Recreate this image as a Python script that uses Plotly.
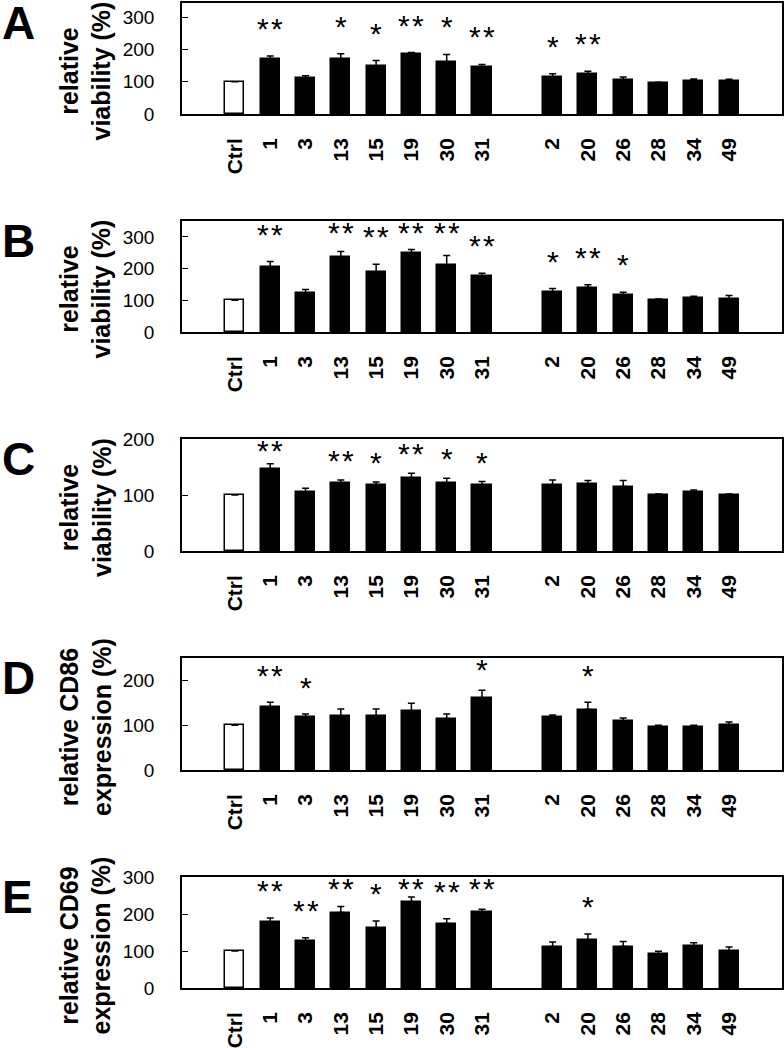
import plotly.graph_objects as go

# ---------------- data ----------------
labels = ["Ctrl", "1", "3", "13", "15", "19", "30", "31", "2", "20", "26", "28", "34", "49"]

a_vals = [100, 172, 111, 171, 150, 188, 162, 146, 115, 124, 107, 97, 104, 102]
a_errs = [0, 8, 8, 16, 16, 3, 23, 8, 10, 9, 8, 2, 5, 6]
a_sig = ["", "**", "", "*", "*", "**", "*", "**", "*", "**", "", "", "", ""]

b_vals = [100, 206, 122, 235, 188, 248, 211, 177, 125, 140, 117, 100, 107, 104]
b_errs = [0, 16, 12, 19, 26, 12, 30, 8, 12, 9, 8, 4, 6, 11]
b_sig = ["", "**", "", "**", "**", "**", "**", "**", "*", "**", "*", "", "", ""]

c_vals = [100, 147, 106, 121, 117, 130, 122, 118, 117, 119, 115, 100, 106, 100]
c_errs = [0, 9, 6, 6, 6, 9, 8, 6, 10, 7, 11, 2, 3, 2]
c_sig = ["", "**", "", "**", "*", "**", "*", "*", "", "", "", "", "", ""]

d_vals = [100, 140, 118, 121, 120, 131, 113, 161, 119, 135, 110, 97, 96, 101]
d_errs = [0, 11, 7, 15, 16, 18, 12, 17, 4, 16, 6, 3, 4, 6]
d_sig = ["", "**", "*", "", "", "", "", "*", "", "*", "", "", "", ""]

e_vals = [100, 179, 128, 204, 161, 233, 174, 205, 112, 130, 112, 91, 113, 101]
e_errs = [0, 10, 8, 16, 20, 13, 13, 8, 12, 16, 14, 8, 9, 10]
e_sig = ["", "**", "**", "**", "*", "**", "**", "**", "", "*", "", "", "", ""]

panel_letters = ["A", "B", "C", "D", "E"]
y_titles = ["relative<br>viability (%)", "relative<br>viability (%)", "relative<br>viability (%)",
            "relative CD86<br>expression (%)", "relative CD69<br>expression (%)"]
y_tickvals = [[0, 100, 200, 300], [0, 100, 200, 300], [0, 100, 200], [0, 100, 200], [0, 100, 200, 300]]
y_ranges = [[0, 345], [0, 350], [0, 200], [0, 250], [0, 300]]

panels = [(a_vals, a_errs, a_sig), (b_vals, b_errs, b_sig), (c_vals, c_errs, c_sig),
          (d_vals, d_errs, d_sig), (e_vals, e_errs, e_sig)]

# ---------------- layout geometry (pixels) ----------------
W, H = 784, 1048
box_px = [(3, 114), (221, 332), (439, 551), (658, 770), (877, 988)]
star_gap_px = [27, 27, 19, 26, 27]   # asterisk centre distance above error bar top
star_cap_px = 12                      # asterisks never closer than this to the box top
star_step_px = 14                     # horizontal distance between two asterisks of a pair
x_left, x_right = 182, 782
positions = [i + (1 if i >= 8 else 0) for i in range(len(labels))]
FONT = "Liberation Sans, Arial, sans-serif"

fig = go.Figure()
annotations = []
layout_axes = {}

for k, ((vals, errs, sig), (top, bot)) in enumerate(zip(panels, box_px)):
    n = k + 1
    xa = "x" if n == 1 else f"x{n}"
    ya = "y" if n == 1 else f"y{n}"
    colors = ["white" if lab == "Ctrl" else "black" for lab in labels]
    fig.add_trace(go.Bar(
        x=positions, y=vals, width=0.54,
        marker=dict(color=colors, line=dict(color="black", width=1.5)),
        error_y=dict(type="data", array=errs, arrayminus=[0] * len(errs), symmetric=False,
                     color="black", thickness=1.5, width=3.5),
        xaxis=xa, yaxis=ya, showlegend=False,
    ))
    yd = [1 - bot / H, 1 - top / H]
    layout_axes[f"xaxis{'' if n == 1 else n}"] = dict(
        domain=[x_left / W, x_right / W], range=[-1.5, 15.5], automargin=False,
        tickmode="array", tickvals=positions, ticktext=labels, tickangle=-90,
        tickfont=dict(family=FONT, size=21, color="black", weight="bold"),
        showline=True, mirror=True, linecolor="black", linewidth=1.5,
        showgrid=False, zeroline=False, ticks="", ticklabelstandoff=14,
        anchor=ya,
    )
    layout_axes[f"yaxis{'' if n == 1 else n}"] = dict(
        domain=yd, range=y_ranges[k], tickvals=y_tickvals[k], automargin=False,
        tickfont=dict(family=FONT, size=19, color="black"),
        showline=True, mirror=True, linecolor="black", linewidth=1.5,
        showgrid=False, zeroline=False, ticks="inside", ticklen=6, tickwidth=1.2,
        tickcolor="black", ticklabelstandoff=22, anchor=xa,
    )
    # significance asterisks
    ymax = y_ranges[k][1]
    for p, v, e, s in zip(positions, vals, errs, sig):
        if s:
            errtop_px = bot - (v + e) / ymax * (bot - top)
            star_px = max(top + star_cap_px, errtop_px - star_gap_px[k])
            m = len(s)
            for j in range(m):
                annotations.append(dict(
                    x=p, y=v + e, xref=xa, yref=ya, text="*", showarrow=False,
                    yanchor="bottom", xanchor="center",
                    xshift=(j - (m - 1) / 2) * star_step_px,
                    yshift=(errtop_px - star_px) - 18,
                    font=dict(family=FONT, size=30, color="black"),
                ))
    # y title
    yc = 1 - ((top + bot) / 2 + 13) / H
    annotations.append(dict(
        x=85 / W, y=yc, xref="paper", yref="paper", text=y_titles[k], textangle=-90,
        showarrow=False, xanchor="center", yanchor="middle",
        font=dict(family=FONT, size=25, color="black", weight="bold"),
    ))
    # panel letter
    annotations.append(dict(
        x=0 / W, y=1 - (top + 20) / H, xref="paper", yref="paper", text=panel_letters[k],
        showarrow=False, xanchor="left", yanchor="middle",
        font=dict(family=FONT, size=46, color="black", weight="bold"),
    ))

fig.update_layout(
    template="none",
    width=W, height=H, margin=dict(l=0, r=0, t=0, b=0, autoexpand=False),
    paper_bgcolor="white", plot_bgcolor="white",
    annotations=annotations, bargap=0, **layout_axes,
)

fig.write_html(
    "out.html",
    config={"displayModeBar": False},
    post_script="document.body.style.margin='0';document.body.style.overflow='hidden';",
)
